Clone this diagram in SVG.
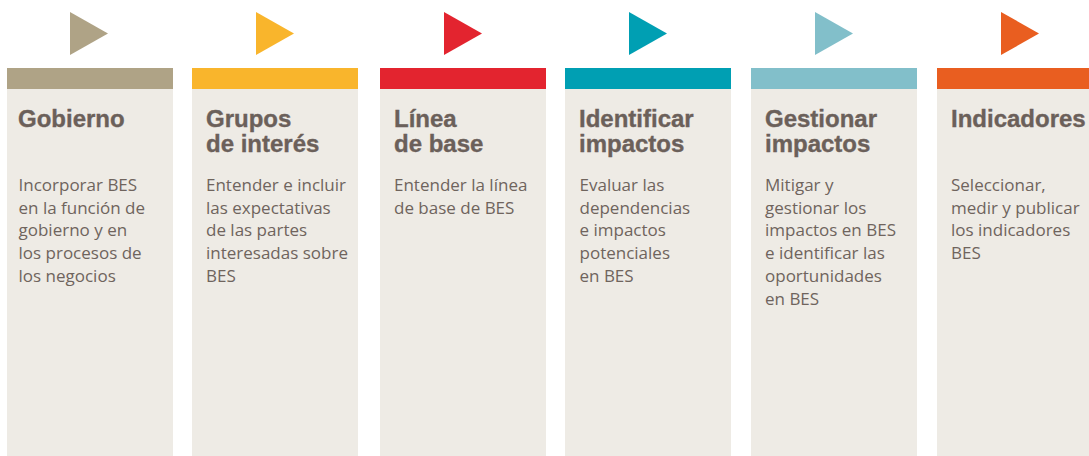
<svg xmlns="http://www.w3.org/2000/svg" width="1089" height="456" viewBox="0 0 1089 456">
<style>
.card{fill:#eeebe5}
.title{font-family:"Liberation Sans",Arial,sans-serif;font-weight:bold;font-size:24px;fill:#6b605a;stroke:#6b605a;stroke-width:0.35}
.body{font-family:"Open Sans","Noto Sans",sans-serif;font-size:17px;fill:#6f645d}
</style>
<rect width="1089" height="456" fill="#ffffff"/>
<g id="node-gobierno">
<polygon points="70,12 108,33.5 70,55" fill="#afa386"/>
<rect class="card" x="7" y="68" width="166" height="388"/>
<rect x="7" y="68" width="166" height="21" fill="#afa386"/>
<text class="title" x="18" y="127">Gobierno</text>
<text class="body" x="18.5" y="191"><tspan x="18.5">Incorporar BES</tspan><tspan x="18.5" dy="22.7">en la función de</tspan><tspan x="18.5" dy="22.7">gobierno y en</tspan><tspan x="18.5" dy="22.7">los procesos de</tspan><tspan x="18.5" dy="22.7">los negocios</tspan></text>
</g>
<g id="node-grupos">
<polygon points="256,12 294,33.5 256,55" fill="#f9b52c"/>
<rect class="card" x="192" y="68" width="166" height="388"/>
<rect x="192" y="68" width="166" height="21" fill="#f9b52c"/>
<text class="title" x="206" y="127"><tspan x="206">Grupos</tspan><tspan x="206" dy="24.5">de interés</tspan></text>
<text class="body" x="206" y="191"><tspan x="206">Entender e incluir</tspan><tspan x="206" dy="22.7">las expectativas</tspan><tspan x="206" dy="22.7">de las partes</tspan><tspan x="206" dy="22.7">interesadas sobre</tspan><tspan x="206" dy="22.7">BES</tspan></text>
</g>
<g id="node-linea">
<polygon points="444,12 482,33.5 444,55" fill="#e3242f"/>
<rect class="card" x="380" y="68" width="166" height="388"/>
<rect x="380" y="68" width="166" height="21" fill="#e3242f"/>
<text class="title" x="394" y="127"><tspan x="394">Línea</tspan><tspan x="394" dy="24.5">de base</tspan></text>
<text class="body" x="394" y="191"><tspan x="394">Entender la línea</tspan><tspan x="394" dy="22.7">de base de BES</tspan></text>
</g>
<g id="node-identificar">
<polygon points="629,12 667,33.5 629,55" fill="#009fb3"/>
<rect class="card" x="565" y="68" width="166" height="388"/>
<rect x="565" y="68" width="166" height="21" fill="#009fb3"/>
<text class="title" x="579" y="127"><tspan x="579">Identificar</tspan><tspan x="579" dy="24.5">impactos</tspan></text>
<text class="body" x="579.5" y="191"><tspan x="579.5">Evaluar las</tspan><tspan x="579.5" dy="22.7">dependencias</tspan><tspan x="579.5" dy="22.7">e impactos</tspan><tspan x="579.5" dy="22.7">potenciales</tspan><tspan x="579.5" dy="22.7">en BES</tspan></text>
</g>
<g id="node-gestionar">
<polygon points="815,12 853,33.5 815,55" fill="#82bfca"/>
<rect class="card" x="751" y="68" width="166" height="388"/>
<rect x="751" y="68" width="166" height="21" fill="#82bfca"/>
<text class="title" x="765" y="127"><tspan x="765">Gestionar</tspan><tspan x="765" dy="24.5">impactos</tspan></text>
<text class="body" x="765" y="191"><tspan x="765">Mitigar y</tspan><tspan x="765" dy="22.7">gestionar los</tspan><tspan x="765" dy="22.7">impactos en BES</tspan><tspan x="765" dy="22.7">e identificar las</tspan><tspan x="765" dy="22.7">oportunidades</tspan><tspan x="765" dy="22.7">en BES</tspan></text>
</g>
<g id="node-indicadores">
<polygon points="1001,12 1039,33.5 1001,55" fill="#e95e20"/>
<rect class="card" x="937" y="68" width="166" height="388"/>
<rect x="937" y="68" width="166" height="21" fill="#e95e20"/>
<text class="title" x="951" y="127">Indicadores</text>
<text class="body" x="951" y="191"><tspan x="951">Seleccionar,</tspan><tspan x="951" dy="22.7">medir y publicar</tspan><tspan x="951" dy="22.7">los indicadores</tspan><tspan x="951" dy="22.7">BES</tspan></text>
</g>
<g id="connectors"></g>
</svg>
